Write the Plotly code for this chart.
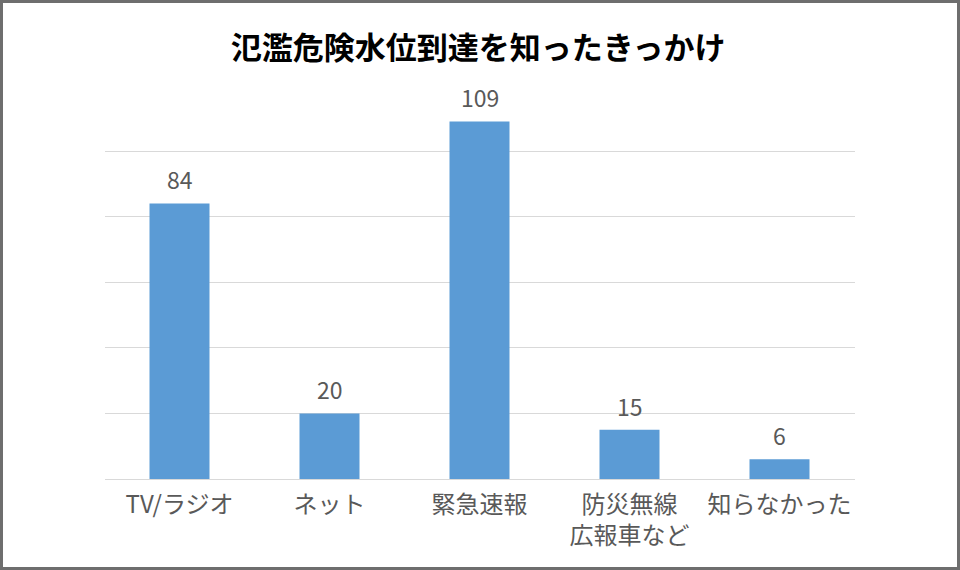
import plotly.graph_objects as go

categories = ["TV/ラジオ", "ネット", "緊急速報", "防災無線<br>広報車など", "知らなかった"]
values = [84, 20, 109, 15, 6]
title_text = "氾濫危険水位到達を知ったきっかけ"

W, H = 960, 570
plot_left, plot_right = 104.5, 854.5
plot_bottom = 479
px_per_unit = 3.28
ymax = 115
plot_top = plot_bottom - ymax * px_per_unit

font_family = "Noto Sans CJK JP, Noto Sans, sans-serif"

fig = go.Figure()
fig.add_trace(go.Bar(
    x=categories, y=values,
    marker=dict(color="#5b9bd5", line=dict(width=0)),
    hoverinfo="skip",
))

for c, v in zip(categories, values):
    fig.add_annotation(x=c, y=v, text=str(v), showarrow=False,
                       yanchor="bottom", yshift=5,
                       font=dict(size=23, color="#595959", family=font_family))

fig.update_layout(
    width=W, height=H,
    margin=dict(l=0, r=0, t=0, b=0),
    paper_bgcolor="white", plot_bgcolor="white",
    bargap=0.6,
    showlegend=False,
    font=dict(family=font_family, color="#595959"),
    title=dict(text="<b>" + title_text + "</b>", x=0.498, xanchor="center",
               y=1 - 48 / H, yanchor="middle",
               font=dict(size=31, color="#000000", family=font_family)),
    xaxis=dict(domain=[plot_left / W, plot_right / W], showline=False,
               ticks="", tickfont=dict(size=24, color="#595959"),
               automargin=False, showgrid=False, ticklabelstandoff=9),
    yaxis=dict(domain=[(H - plot_bottom) / H, (H - plot_top) / H],
               range=[0, ymax], dtick=20, showticklabels=False,
               gridcolor="#d9d9d9", gridwidth=1,
               zeroline=True, zerolinecolor="#d9d9d9", zerolinewidth=1,
               automargin=False),
    shapes=[dict(type="rect", xref="paper", yref="paper", x0=0, x1=1, y0=0, y1=1,
                 line=dict(color="#6e6e6e", width=6), fillcolor="rgba(0,0,0,0)")],
)

fig.write_html("out.html")
